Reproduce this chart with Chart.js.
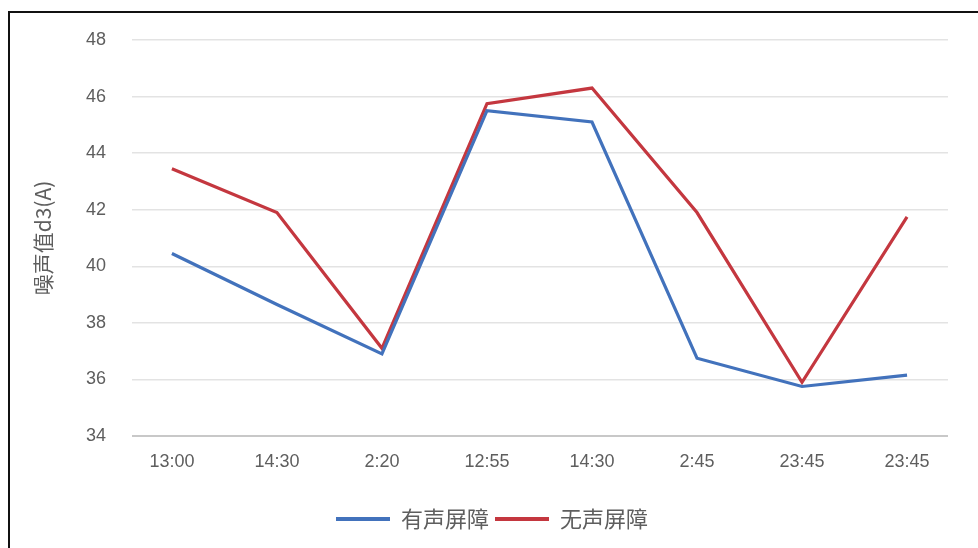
<!DOCTYPE html>
<html>
<head>
<meta charset="utf-8">
<script src="https://cdn.jsdelivr.net/npm/chart.js@4/dist/chart.umd.min.js"></script>
<style>
  html, body { margin: 0; padding: 0; background: #fff; }
  #wrap { width: 978px; height: 548px; position: relative; }
</style>
</head>
<body>
<div id="wrap"><canvas id="c" width="978" height="548"></canvas></div>
<script>
// Measurement times along the x axis
const categories = ['13:00', '14:30', '2:20', '12:55', '14:30', '2:45', '23:45', '23:45'];
// Noise level with a sound barrier
const withBarrier = [40.45, 38.65, 36.9, 45.5, 45.1, 36.75, 35.75, 36.15];
// Noise level without a sound barrier
const withoutBarrier = [43.45, 41.9, 37.1, 45.75, 46.3, 41.9, 35.9, 41.75];
// Y axis range and ticks
const yTicks = [34, 36, 38, 40, 42, 44, 46, 48];
const seriesNames = ['有声屏障', '无声屏障'];
const yTitle = '噪声值d3(A)';

const BLUE = '#4272BC';
const RED = '#C4373F';
const TEXT = '#5E5E5E';

const toPoints = arr => arr.map((v, i) => ({ x: i, y: v }));

// Frame lines on the left and top edges of the canvas
const framePlugin = {
  id: 'frame',
  afterDraw(chart) {
    const ctx = chart.ctx;
    ctx.save();
    ctx.strokeStyle = '#111';
    ctx.lineWidth = 2;
    ctx.beginPath();
    ctx.moveTo(9, chart.height);
    ctx.lineTo(9, 12);
    ctx.lineTo(chart.width, 12);
    ctx.stroke();
    ctx.restore();
  }
};

// Nudge the legend a little to the right of the canvas centre
const legendShift = {
  id: 'legendShift',
  afterLayout(chart) {
    if (chart.legend) {
      chart.legend.left += 14;
      chart.legend.right += 14;
    }
  }
};

new Chart(document.getElementById('c'), {
  type: 'line',
  data: {
    datasets: [
      { label: seriesNames[0], data: toPoints(withBarrier), borderColor: BLUE, backgroundColor: BLUE,
        borderWidth: 3.2, pointRadius: 0, tension: 0 },
      { label: seriesNames[1], data: toPoints(withoutBarrier), borderColor: RED, backgroundColor: RED,
        borderWidth: 3.2, pointRadius: 0, tension: 0 }
    ]
  },
  options: {
    responsive: false,
    animation: false,
    devicePixelRatio: 1,
    layout: { padding: { left: 8, right: 30, top: 40, bottom: 8 } },
    plugins: {
      tooltip: { enabled: false },
      legend: {
        position: 'bottom',
        labels: {
          boxWidth: 54,
          boxHeight: 4,
          padding: 6,
          color: TEXT,
          font: { family: '"Noto Sans CJK SC", sans-serif', size: 22 },
          generateLabels(chart) {
            return Chart.defaults.plugins.legend.labels.generateLabels(chart).map(l => ({ ...l, lineWidth: 0 }));
          }
        }
      }
    },
    scales: {
      x: {
        type: 'linear',
        min: -0.38,
        max: 7.39,
        afterBuildTicks(scale) { scale.ticks = categories.map((_, i) => ({ value: i })); },
        afterFit(scale) { scale.height = 66; },
        grid: { display: false, drawTicks: false },
        border: { display: false },
        ticks: {
          padding: 15,
          color: TEXT,
          autoSkip: false,
          maxRotation: 0,
          font: { family: '"Liberation Sans", sans-serif', size: 18 },
          callback: v => categories[v]
        }
      },
      y: {
        min: yTicks[0],
        max: yTicks[yTicks.length - 1],
        afterBuildTicks(scale) { scale.ticks = yTicks.map(v => ({ value: v })); },
        afterFit(scale) { scale.width = 124; },
        grid: {
          color: ctx => ctx.tick && ctx.tick.value === yTicks[0] ? '#C8C8C8' : '#E3E3E3',
          lineWidth: ctx => ctx.tick && ctx.tick.value === yTicks[0] ? 2 : 1.5,
          drawTicks: false
        },
        border: { display: false },
        ticks: {
          padding: 26,
          color: TEXT,
          font: { family: '"Liberation Sans", sans-serif', size: 18 }
        },
        title: {
          display: true,
          text: yTitle,
          color: TEXT,
          padding: { top: 22, bottom: 0 },
          font: { family: '"Noto Sans CJK SC", sans-serif', size: 21 }
        }
      }
    }
  },
  plugins: [framePlugin, legendShift]
});
</script>
</body>
</html>
